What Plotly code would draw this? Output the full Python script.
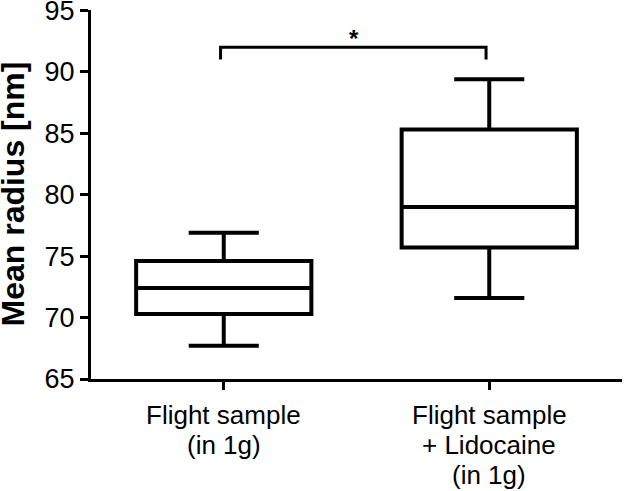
import plotly.graph_objects as go

categories = [["Flight sample", "(in 1g)"], ["Flight sample", "+ Lidocaine", "(in 1g)"]]
positions = [0, 1]
lower_fence = [67.7, 71.6]
q1 = [70.3, 75.7]
median = [72.4, 79.0]
q3 = [74.6, 85.3]
upper_fence = [76.9, 89.4]

bracket_x = [0, 0, 1, 1]
bracket_y = [91.0, 92.0, 92.0, 91.0]
sig_label = "*"
y_ticks = [65, 70, 75, 80, 85, 90, 95]
y_title = "Mean radius [nm]"

FONT = "Liberation Sans, Arial, sans-serif"

fig = go.Figure()
for i in range(len(positions)):
    fig.add_trace(go.Box(
        x=[positions[i]], q1=[q1[i]], median=[median[i]], q3=[q3[i]],
        lowerfence=[lower_fence[i]], upperfence=[upper_fence[i]],
        width=0.66, whiskerwidth=0.4,
        line=dict(color="black", width=4), fillcolor="white",
        boxpoints=False, showlegend=False, hoverinfo="skip",
    ))

fig.add_trace(go.Scatter(
    x=[p - 0.012 for p in bracket_x], y=bracket_y, mode="lines",
    line=dict(color="black", width=3), showlegend=False, hoverinfo="skip",
))

fig.add_annotation(x=0.49, y=92.75, text="<b>" + sig_label + "</b>", showarrow=False,
                   font=dict(size=24, color="black", family=FONT))

# multi-line category labels with tight line spacing
for pos, lines in zip(positions, categories):
    for j, line in enumerate(lines):
        fig.add_annotation(x=pos, xref="x", y=0, yref="paper", text=line,
                           showarrow=False, yanchor="middle", xanchor="center",
                           yshift=-36 - 30 * j,
                           font=dict(size=26, color="black", family=FONT))

# y-axis title
fig.add_annotation(x=0, xref="paper", y=0.5, yref="paper", text="<b>" + y_title + "</b>",
                   textangle=-90, showarrow=False, xanchor="center", yanchor="middle",
                   xshift=-79, font=dict(size=32, color="black", family=FONT))

fig.update_layout(
    width=624, height=491,
    margin=dict(l=91, r=2, t=10, b=112, autoexpand=False),
    paper_bgcolor="white", plot_bgcolor="white",
    font=dict(family=FONT, color="black", size=26),
    xaxis=dict(
        range=[-0.5, 1.5], tickvals=positions, ticktext=["", ""],
        showline=True, linecolor="black", linewidth=3,
        ticks="outside", ticklen=8, tickwidth=3, tickcolor="black",
        showgrid=False, zeroline=False, automargin=False,
    ),
    yaxis=dict(
        range=[65, 95.03], tickvals=y_ticks,
        showline=True, linecolor="black", linewidth=3,
        ticks="outside", ticklen=8, tickwidth=3, tickcolor="black",
        showgrid=False, zeroline=False, tickfont=dict(size=27), automargin=False,
        ticklabeloverflow="allow",
    ),
)

fig.write_html("out.html", config={"displayModeBar": False},
               post_script="document.body.style.margin='0';document.body.style.padding='0';")
